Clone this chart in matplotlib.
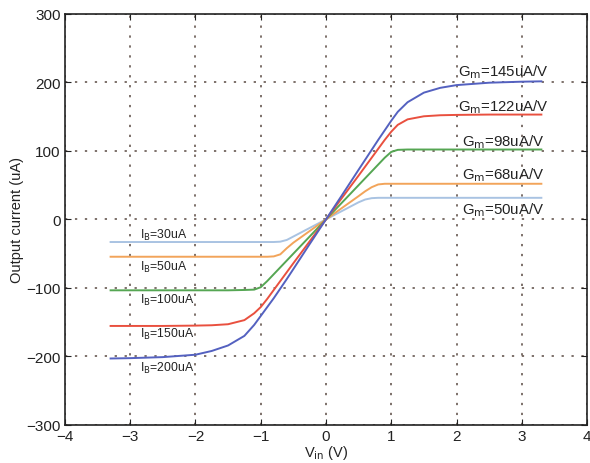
import matplotlib
matplotlib.use("Agg")
import matplotlib.pyplot as plt

plt.rcParams['font.family'] = ['Liberation Sans', 'DejaVu Sans']

# input voltage sweep (V)
vin = [-3.3, -3.0, -2.5, -2.0, -1.75, -1.5, -1.25, -1.1, -1.0, -0.9, -0.8,
       -0.7, -0.6, -0.5, -0.25, 0.0, 0.25, 0.5, 0.6, 0.7, 0.8, 0.9, 1.0,
       1.1, 1.25, 1.5, 1.75, 2.0, 2.5, 3.0, 3.3]

# output current (uA) for each bias current
iout_30 = [-33, -33, -33, -33, -33, -33, -33, -33, -33, -33, -33,
           -32.5, -30, -25, -12.5, 0, 12.5, 25, 29, 31, 31.5, 31.5, 31.5,
           31.5, 31.5, 31.5, 31.5, 31.5, 31.5, 31.5, 31.5]
iout_50 = [-54.5, -54.5, -54.5, -54.5, -54.5, -54.5, -54.5, -54.5, -54.5, -54.5, -54,
           -51, -42, -34, -17, 0, 17, 34, 41, 47, 51, 52, 52,
           52, 52, 52, 52, 52, 52, 52, 52]
iout_100 = [-103.5, -103.5, -103.5, -103.5, -103.5, -103.5, -103, -102.5, -99, -90, -80,
            -70, -60, -50, -25, 0, 25, 50, 60, 70, 80, 90, 98.5,
            101.5, 102, 102, 102, 102, 102, 102, 102]
iout_150 = [-155.5, -155.5, -155.5, -155, -154.5, -153, -147, -137, -128, -116, -103,
            -90, -77, -64, -32, 0, 32, 64, 77, 90, 103, 116, 128,
            138, 146, 150.5, 152, 152.5, 153, 153, 153]
iout_200 = [-203, -202.5, -201, -197.5, -192, -184, -170, -154, -141, -128, -115,
            -101, -87, -72.5, -36, 0, 36, 72.5, 87, 101.5, 116, 130, 144,
            157, 171, 185, 192, 196, 199.5, 201, 201.5]

series = [iout_30, iout_50, iout_100, iout_150, iout_200]
colors = ['#a9c3e2', '#f2a45a', '#55a653', '#e9503f', '#5461c0']

gm_labels = ['G$_\\mathrm{m}$=50uA/V', 'G$_\\mathrm{m}$=68uA/V', 'G$_\\mathrm{m}$=98uA/V',
             'G$_\\mathrm{m}$=122uA/V', 'G$_\\mathrm{m}$=145uA/V']
gm_pos = [(2.08, 15), (2.08, 66), (2.08, 114), (2.02, 165), (2.02, 216)]
ib_labels = ['I$_\\mathrm{B}$=30uA', 'I$_\\mathrm{B}$=50uA', 'I$_\\mathrm{B}$=100uA',
             'I$_\\mathrm{B}$=150uA', 'I$_\\mathrm{B}$=200uA']
ib_pos = [(-2.85, -22), (-2.85, -68), (-2.85, -117), (-2.85, -166), (-2.85, -216)]

fig = plt.figure(figsize=(5.9, 4.64), dpi=100)
ax = fig.add_axes([0.110, 0.082, 0.885, 0.886])

for y, c in zip(series, colors):
    ax.plot(vin, y, color=c, lw=1.4)

for txt, (x, y) in zip(gm_labels, gm_pos):
    ax.text(x, y, txt, fontsize=10.8, va='center', ha='left', color='#222222')
for txt, (x, y) in zip(ib_labels, ib_pos):
    ax.text(x, y, txt, fontsize=8.8, va='center', ha='left', color='#222222')

ax.set_xlim(-4, 4)
ax.set_ylim(-300, 300)
ax.set_xticks(range(-4, 5))
ax.set_yticks(range(-300, 301, 100))
ax.set_xticklabels(['\u2212%d' % -v if v < 0 else str(v) for v in range(-4, 5)])
ax.set_yticklabels(['\u2212%d' % -v if v < 0 else str(v) for v in range(-300, 301, 100)])
ax.tick_params(direction='in', top=True, right=True, labelsize=11, length=4,
               color='#222222', labelcolor='#222222', pad=3)
ax.grid(True, linestyle=(0, (1.5, 5)), color='#5a4a42', lw=1.1)
for s in ax.spines.values():
    s.set_color('#222222')
    s.set_linewidth(1.2)

ax.set_xlabel('V$_\\mathrm{in}$ (V)', fontsize=10.5, labelpad=0, color='#222222')
ax.set_ylabel('Output current (uA)', fontsize=10.5, labelpad=2, color='#222222')

fig.savefig('out.png', dpi=100)
